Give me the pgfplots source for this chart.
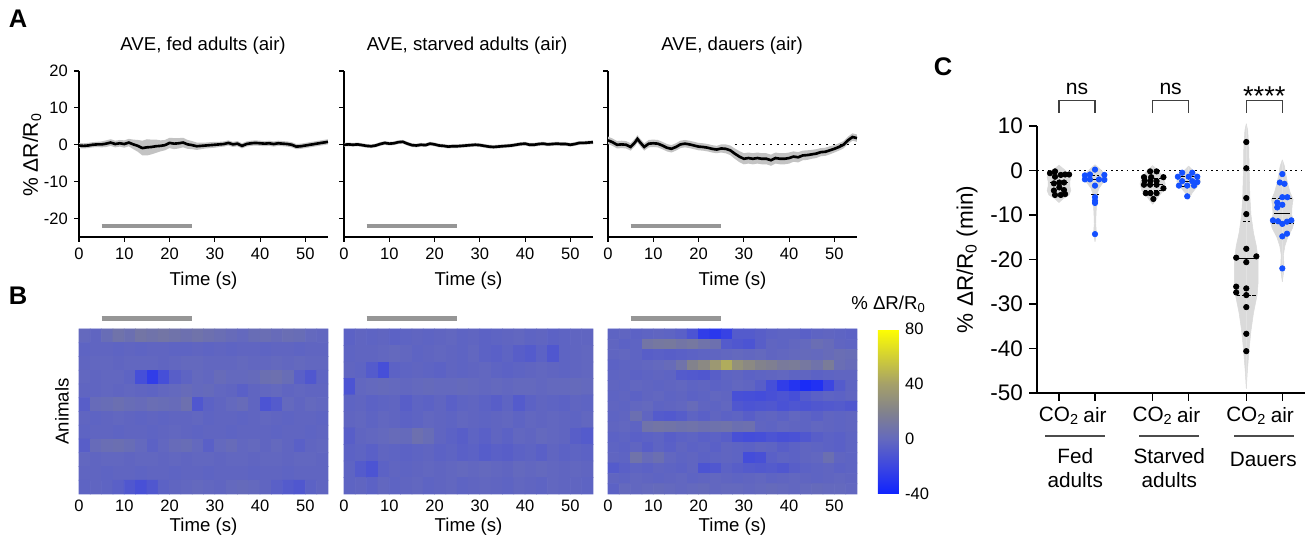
\documentclass[border=0pt]{standalone}
\usepackage{fontspec}
\setmainfont{Liberation Sans}
\usepackage{pgfplots}
\usepackage{pgfplotstable}
\pgfplotsset{compat=1.18}

\definecolor{band}{RGB}{195,195,195}
\definecolor{stim}{RGB}{150,150,150}
\definecolor{violin}{RGB}{218,218,218}
\definecolor{dotblue}{RGB}{20,80,255}

\newcommand\fT{\fontsize{10.6}{12.5}\selectfont}
\newcommand\fY{\fontsize{12}{14}\selectfont}
\newcommand\fK{\fontsize{9.4}{11}\selectfont}
\newcommand\fC{\fontsize{12.8}{14}\selectfont}
\newcommand\fL{\fontsize{11.8}{13.2}\selectfont}

\pgfplotsset{
  colormap={ratio}{rgb255(0cm)=(15,35,255) rgb255(1cm)=(60,70,225) rgb255(2cm)=(100,105,190)
    rgb255(3cm)=(130,130,140) rgb255(4cm)=(165,160,105) rgb255(6cm)=(255,255,0)},
  trace/.style={scale only axis, width=4.98cm, height=3.32cm, anchor=south west,
    xmin=0, xmax=55, ymin=-25, ymax=20, axis x line=bottom, axis y line=left,
    axis line style={-, line width=0.6pt}, tick style={black, line width=0.6pt},
    tick align=outside, major tick length=0.1cm,
    xtick={0,10,...,50}, ytick={-20,-10,...,20},
    tick label style={font=\fK}, label style={font=\fT},
    /pgf/number format/assume math mode=true,
    xlabel={Time (s)}, clip=false},
  heat/.style={scale only axis, width=4.98cm, height=3.3cm, anchor=south west,
    xmin=0, xmax=55, y dir=reverse, enlargelimits=false,
    colormap name=ratio, point meta min=-40, point meta max=80,
    axis x line*=bottom, axis y line*=left, axis line style={draw=none},
    xtick={0,10,...,50}, ytick=\empty, major tick length=0, tick style={draw=none},
    tick label style={font=\fK}, label style={font=\fT},
    /pgf/number format/assume math mode=true,
    xlabel={Time (s)}, xlabel style={at={(axis description cs:0.5,-0.2)}, anchor=center},
    clip=false},
  % cell index -> (time bin centre, animal row)
  heatcells/.style={matrix plot, mesh/cols=22, point meta=explicit,
    table/x=c, table/y=c, table/meta=c,
    table/x expr={2.5*(\coordindex-22*floor((\coordindex+0.5)/22))+1.25},
    table/y expr={floor((\coordindex+0.5)/22)}},
}

% mean trace and SEM
\pgfplotstableread{
t m e
0 -0.2 0.7
1 -0.3 0.7
2 -0.2 0.7
3 0.0 0.7
4 0.1 0.7
5 0.1 0.8
6 0.3 0.9
7 0.6 0.9
8 0.2 0.9
9 0.4 0.9
10 0.2 1.0
11 0.6 1.0
12 0.1 1.3
13 -0.3 1.6
14 -0.9 2.0
15 -0.7 2.2
16 -0.6 2.0
17 -0.4 1.8
18 -0.3 1.5
19 -0.1 1.4
20 0.5 1.4
21 0.3 1.5
22 0.4 1.4
23 0.6 1.3
24 0.1 1.2
25 -0.1 1.1
26 -0.4 1.0
27 -0.3 0.9
28 -0.2 0.8
29 -0.1 0.8
30 0.0 0.8
31 0.1 0.7
32 0.2 0.7
33 0.5 0.7
34 0.1 0.7
35 0.3 0.7
36 -0.3 0.7
37 0.2 0.7
38 0.4 0.7
39 0.5 0.7
40 0.4 0.7
41 0.3 0.7
42 0.4 0.7
43 0.2 0.7
44 0.4 0.7
45 0.3 0.7
46 0.2 0.7
47 0.0 0.7
48 -0.5 0.7
49 -0.4 0.7
50 -0.2 0.7
51 0.0 0.7
52 0.2 0.7
53 0.4 0.7
54 0.6 0.7
55 0.8 0.7
}\fedtr

\pgfplotstableread{
t m e
0 0.0 0.5
1 0.1 0.5
2 0.0 0.5
3 0.1 0.5
4 -0.1 0.5
5 -0.3 0.5
6 -0.4 0.5
7 -0.2 0.5
8 0.2 0.5
9 0.5 0.5
10 0.3 0.5
11 0.4 0.5
12 0.7 0.5
13 0.8 0.5
14 0.3 0.5
15 -0.1 0.5
16 -0.2 0.5
17 0.0 0.5
18 -0.1 0.5
19 0.3 0.5
20 0.1 0.5
21 -0.2 0.5
22 -0.3 0.5
23 -0.5 0.5
24 -0.4 0.5
25 -0.4 0.5
26 -0.3 0.5
27 -0.2 0.5
28 -0.1 0.5
29 0.0 0.5
30 -0.1 0.5
31 -0.3 0.5
32 -0.5 0.5
33 -0.6 0.5
34 -0.5 0.5
35 -0.4 0.5
36 -0.3 0.5
37 -0.2 0.5
38 0.0 0.5
39 0.2 0.5
40 0.3 0.5
41 0.0 0.5
42 0.0 0.5
43 0.2 0.5
44 0.3 0.5
45 0.1 0.5
46 0.2 0.5
47 0.3 0.5
48 0.2 0.5
49 0.2 0.5
50 0.0 0.5
51 0.2 0.5
52 0.5 0.5
53 0.5 0.5
54 0.6 0.5
55 0.7 0.5
}\startr

\pgfplotstableread{
t m e
0 1.2 1.0
1 0.7 1.0
2 0.0 1.0
3 0.1 1.0
4 0.0 1.0
5 -0.6 1.0
6 0.7 1.0
6.5 1.6 1.0
7 0.8 1.0
8 -0.6 1.0
9 0.3 1.0
10 0.4 1.0
11 0.3 1.0
12 -0.2 1.0
13 -0.8 1.0
14 -1.1 1.0
15 -0.6 1.0
16 0.1 1.0
17 0.3 1.0
18 0.1 1.0
19 -0.2 1.0
20 -0.5 1.0
21 -0.6 1.0
22 -0.8 1.0
23 -1.1 1.0
24 -1.3 1.0
25 -1.0 1.1
26 -1.1 1.2
27 -1.5 1.3
28 -2.4 1.4
29 -3.2 1.5
30 -3.8 1.5
31 -3.6 1.5
32 -3.8 1.5
33 -3.6 1.5
34 -3.8 1.5
35 -3.8 1.5
36 -4.2 1.5
37 -3.6 1.5
38 -3.8 1.5
39 -3.8 1.5
40 -3.6 1.5
41 -3.2 1.4
42 -3.4 1.4
43 -2.9 1.3
44 -2.8 1.3
45 -2.6 1.2
46 -2.4 1.2
47 -2.0 1.1
48 -1.9 1.1
49 -1.5 1.1
50 -1.1 1.0
51 -0.6 1.0
52 0.0 1.0
53 1.2 1.0
54 2.1 1.0
55 1.8 1.0
}\dautr

% heatmaps: one animal per line, 22 bins of 2.5 s
\pgfplotstableread[row sep=\\]{c\\
0\\ -2\\ 3\\ 8\\ 5\\ 10\\ 8\\ 10\\ 8\\ 6\\ 8\\ 6\\ 4\\ 2\\ 0\\ 3\\ 4\\ 2\\ 4\\ 3\\ 0\\ -1\\
-3\\ -2\\ -2\\ -3\\ -2\\ -3\\ -2\\ -2\\ -3\\ -3\\ -2\\ -3\\ -2\\ -3\\ -2\\ -2\\ -3\\ -2\\ -2\\ -3\\ -2\\ -2\\
-2\\ -1\\ -1\\ -2\\ -1\\ -1\\ -1\\ -2\\ -1\\ 0\\ 0\\ -1\\ -1\\ -1\\ 0\\ -1\\ -1\\ 0\\ -1\\ 0\\ -1\\ -1\\
-1\\ -2\\ -1\\ -1\\ -3\\ -15\\ -25\\ -15\\ -6\\ -3\\ 0\\ -1\\ 2\\ 0\\ 0\\ 1\\ 5\\ 6\\ 3\\ -5\\ -10\\ -3\\
-2\\ -2\\ -1\\ -2\\ -1\\ -2\\ -3\\ -1\\ 0\\ 2\\ 0\\ 1\\ -1\\ -2\\ -5\\ -2\\ -1\\ 0\\ -2\\ -1\\ -2\\ -2\\
-6\\ 2\\ 3\\ 5\\ 3\\ 2\\ 4\\ 3\\ 2\\ 6\\ -10\\ -4\\ -2\\ 0\\ 2\\ -2\\ -12\\ -8\\ 0\\ -2\\ 0\\ -1\\
-2\\ -3\\ -2\\ -1\\ -2\\ -3\\ -2\\ -3\\ -2\\ -2\\ -1\\ -3\\ -2\\ -2\\ -3\\ -2\\ -1\\ -2\\ -3\\ -2\\ -2\\ -3\\
-3\\ -2\\ -2\\ -3\\ -2\\ -2\\ -3\\ -2\\ -1\\ -2\\ -3\\ -2\\ -2\\ -3\\ -2\\ -2\\ -2\\ -3\\ -2\\ -2\\ -3\\ -2\\
-6\\ 2\\ 4\\ 5\\ 3\\ 0\\ -4\\ -1\\ 2\\ 3\\ 0\\ -5\\ 0\\ 2\\ -1\\ 0\\ -2\\ 0\\ -2\\ -5\\ -2\\ -1\\
-1\\ -2\\ -1\\ -1\\ -2\\ -1\\ -1\\ -2\\ -1\\ -2\\ -1\\ -1\\ -2\\ -1\\ -1\\ -2\\ -1\\ -1\\ -2\\ -1\\ -1\\ -2\\
-2\\ -2\\ -3\\ -2\\ -2\\ -3\\ -2\\ -2\\ -3\\ -2\\ -2\\ -3\\ -2\\ -2\\ -2\\ -3\\ -2\\ -2\\ -3\\ -2\\ -2\\ -2\\
-3\\ -2\\ -3\\ -5\\ -10\\ -14\\ -10\\ -4\\ -2\\ -1\\ 0\\ -1\\ -2\\ 0\\ 1\\ 0\\ -2\\ -5\\ -8\\ -10\\ -4\\ -2\\
}\fedheat

\pgfplotstableread[row sep=\\]{c\\
-4\\ -2\\ -3\\ -2\\ -4\\ -3\\ -2\\ -3\\ -2\\ -1\\ -3\\ -2\\ -4\\ -3\\ -2\\ -1\\ -3\\ -2\\ -4\\ -3\\ -2\\ -2\\
-3\\ -2\\ -2\\ -1\\ 0\\ -1\\ -3\\ -2\\ -1\\ -2\\ -3\\ -1\\ -4\\ -5\\ -3\\ -6\\ -8\\ -4\\ -10\\ -3\\ -2\\ -1\\
-2\\ -3\\ -8\\ -15\\ -4\\ -3\\ -2\\ -3\\ -4\\ -2\\ -3\\ -2\\ -1\\ -3\\ -4\\ -3\\ -2\\ -1\\ -2\\ -3\\ -2\\ -1\\
-12\\ -1\\ 0\\ 1\\ 0\\ -1\\ 0\\ 1\\ 0\\ 0\\ 1\\ 0\\ -1\\ 0\\ -1\\ 0\\ 0\\ -1\\ 0\\ 0\\ 1\\ 0\\
-3\\ -2\\ -4\\ -3\\ -2\\ -6\\ -3\\ -4\\ -2\\ -5\\ -3\\ -2\\ -4\\ -6\\ -3\\ -8\\ -4\\ -2\\ -3\\ -4\\ -2\\ -3\\
-2\\ -1\\ -3\\ -1\\ -2\\ -4\\ -3\\ -1\\ -2\\ -3\\ -1\\ -2\\ -3\\ -2\\ -1\\ -3\\ -1\\ -2\\ -1\\ -2\\ -3\\ -1\\
-6\\ -2\\ -1\\ 0\\ 2\\ 1\\ 6\\ 3\\ -2\\ -4\\ -6\\ -3\\ -5\\ -2\\ -4\\ -1\\ -2\\ 0\\ -1\\ -2\\ -6\\ -8\\
-4\\ -3\\ -5\\ -2\\ -3\\ -4\\ -3\\ -2\\ -4\\ -3\\ -5\\ -4\\ -7\\ -5\\ -6\\ -4\\ -3\\ -5\\ -2\\ -4\\ -3\\ -4\\
-3\\ -8\\ -12\\ -4\\ -2\\ -3\\ -2\\ -1\\ -2\\ -1\\ 0\\ -1\\ 0\\ -1\\ -2\\ 0\\ -1\\ 0\\ -1\\ -2\\ -1\\ -2\\
-3\\ -2\\ -4\\ -1\\ -3\\ -2\\ -1\\ -3\\ -2\\ -1\\ -3\\ -2\\ -1\\ -2\\ -3\\ -1\\ -2\\ -3\\ -1\\ -2\\ -2\\ -3\\
}\starheat

\pgfplotstableread[row sep=\\]{c\\
-3\\ -2\\ -4\\ -3\\ -2\\ -3\\ -5\\ -12\\ -25\\ -28\\ -22\\ -8\\ -8\\ -6\\ -4\\ -3\\ -3\\ -5\\ -3\\ -2\\ -3\\ -4\\
-2\\ -4\\ -3\\ 10\\ 12\\ 13\\ 10\\ 12\\ 8\\ 6\\ -8\\ -10\\ -12\\ -6\\ -2\\ -3\\ -1\\ 0\\ 4\\ 2\\ -2\\ -3\\
-2\\ -1\\ -3\\ -6\\ -5\\ -6\\ -5\\ -4\\ -3\\ -2\\ -1\\ 0\\ -1\\ 0\\ -2\\ -1\\ 0\\ 1\\ 0\\ 2\\ 4\\ 3\\
-4\\ -3\\ -2\\ -1\\ 0\\ 2\\ 8\\ 20\\ 25\\ 35\\ 45\\ 30\\ 25\\ 20\\ 18\\ 14\\ 15\\ 12\\ 8\\ 15\\ 4\\ 2\\
-3\\ -2\\ -4\\ -3\\ -2\\ -3\\ -8\\ -9\\ -10\\ -6\\ -3\\ -2\\ -4\\ -3\\ -2\\ -1\\ -3\\ -2\\ -4\\ -3\\ -2\\ -2\\
-2\\ -3\\ -1\\ -2\\ -3\\ -2\\ -1\\ -3\\ -2\\ -4\\ -3\\ -1\\ -2\\ -6\\ -15\\ -25\\ -30\\ -35\\ -32\\ -20\\ -8\\ -3\\
-3\\ -2\\ -4\\ -2\\ -1\\ -3\\ -2\\ -4\\ -3\\ -1\\ -2\\ -14\\ -15\\ -16\\ -14\\ -12\\ -15\\ -8\\ -5\\ -3\\ -4\\ -2\\
-2\\ -3\\ -1\\ 0\\ -3\\ -2\\ -1\\ 2\\ -2\\ -3\\ -1\\ -10\\ -12\\ -11\\ -10\\ -13\\ -11\\ -12\\ -10\\ -9\\ -8\\ -10\\
-3\\ -2\\ 5\\ -2\\ -8\\ -9\\ -7\\ -3\\ -5\\ -2\\ -4\\ -3\\ -6\\ -3\\ -2\\ -4\\ -1\\ -3\\ -5\\ -2\\ -3\\ -2\\
-2\\ -1\\ -3\\ 8\\ 10\\ 9\\ 7\\ 8\\ 6\\ 7\\ 8\\ 5\\ 6\\ -2\\ -3\\ -1\\ -2\\ -3\\ -1\\ -2\\ -3\\ -2\\
-4\\ -3\\ -5\\ -4\\ -3\\ -6\\ -4\\ -3\\ -5\\ -4\\ -6\\ -14\\ -16\\ -15\\ -12\\ -14\\ -13\\ -10\\ -6\\ -4\\ -5\\ -3\\
-3\\ -4\\ -2\\ -6\\ -3\\ -5\\ -2\\ -4\\ -3\\ -5\\ -2\\ -3\\ -4\\ -2\\ -3\\ -6\\ -4\\ -2\\ -3\\ -4\\ -5\\ -3\\
-2\\ -3\\ 8\\ 2\\ 5\\ -1\\ -3\\ -2\\ -4\\ -3\\ -2\\ -3\\ -16\\ -14\\ -5\\ -3\\ -4\\ -2\\ -1\\ 5\\ -2\\ -3\\
-8\\ -5\\ -3\\ -4\\ -2\\ -3\\ -4\\ -2\\ -12\\ -10\\ -4\\ -6\\ -8\\ -9\\ -8\\ -10\\ -6\\ -4\\ -3\\ -2\\ -4\\ -3\\
-2\\ -3\\ -1\\ -2\\ -3\\ -2\\ -1\\ -3\\ -2\\ -1\\ -2\\ -3\\ -2\\ -1\\ -3\\ -2\\ -1\\ -2\\ -3\\ -2\\ -1\\ -2\\
-4\\ 0\\ -1\\ 0\\ 1\\ 0\\ -1\\ 0\\ 1\\ -1\\ 0\\ 0\\ -1\\ 0\\ 1\\ 0\\ -1\\ 0\\ 1\\ 0\\ 0\\ -1\\
}\dauheat

% violin outlines: y, half width
\pgfplotstableread{
y w
1.2 0
0.2 0.15
-0.8 0.30
-1.5 0.33
-2.5 0.30
-3.5 0.30
-4.5 0.33
-5.5 0.28
-6.3 0.12
-7.2 0
}\vfc
\pgfplotstableread{
y w
1.3 0
0.3 0.14
-1.0 0.30
-1.8 0.34
-3.0 0.20
-4.0 0.11
-5.0 0.07
-7.0 0.05
-9.5 0.03
-12.0 0.02
-14.0 0.04
-16.0 0
}\vfa
\pgfplotstableread{
y w
1.1 0
0.0 0.15
-1.5 0.30
-3.0 0.35
-4.5 0.30
-6.0 0.15
-7.6 0
}\vsc
\pgfplotstableread{
y w
1.0 0
-0.5 0.18
-1.5 0.30
-2.5 0.33
-3.5 0.25
-5.0 0.10
-6.5 0
}\vsa
\pgfplotstableread{
y w
10.5 0
9.0 0.04
5.0 0.07
0.0 0.08
-6.0 0.10
-10.0 0.13
-14.0 0.20
-17.0 0.28
-20.0 0.33
-25.0 0.33
-28.0 0.30
-32.0 0.20
-36.0 0.13
-40.0 0.08
-45.0 0.03
-49.0 0
}\vdc
\pgfplotstableread{
y w
2.4 0
1.0 0.06
-1.0 0.10
-3.0 0.15
-5.0 0.22
-6.5 0.30
-8.0 0.27
-10.0 0.26
-11.5 0.33
-13.0 0.28
-15.0 0.15
-17.0 0.07
-19.0 0.03
-22.0 0.05
-25.0 0
}\vda

\begin{document}
\begin{tikzpicture}
\useasboundingbox (0,0) rectangle (26.2,10.78);

% ---------- A: traces ----------
\begin{axis}[trace, at={(1.58cm,6.04cm)}, ylabel={\% ΔR/R\textsubscript{0}},
  ylabel style={at={(axis description cs:-0.189,0.494)}, anchor=center, font=\fY}]
  \addplot[draw=none, stack plots=y] table[x=t, y expr=\thisrow{m}-\thisrow{e}]{\fedtr};
  \addplot[draw=none, fill=band, stack plots=y] table[x=t, y expr=2*\thisrow{e}]{\fedtr} \closedcycle;
  \addplot[black, line width=1.5pt] table[x=t, y=m]{\fedtr};
  \addplot[stim, line width=2.4pt] coordinates {(5,-22) (25,-22)};
\end{axis}

\begin{axis}[trace, at={(6.88cm,6.04cm)}, yticklabels={}]
  \addplot[draw=none, stack plots=y] table[x=t, y expr=\thisrow{m}-\thisrow{e}]{\startr};
  \addplot[draw=none, fill=band, stack plots=y] table[x=t, y expr=2*\thisrow{e}]{\startr} \closedcycle;
  \addplot[black, line width=1.5pt] table[x=t, y=m]{\startr};
  \addplot[stim, line width=2.4pt] coordinates {(5,-22) (25,-22)};
\end{axis}

\begin{axis}[trace, at={(12.16cm,6.04cm)}, yticklabels={}]
  \addplot[draw=none, stack plots=y] table[x=t, y expr=\thisrow{m}-\thisrow{e}]{\dautr};
  \addplot[draw=none, fill=band, stack plots=y] table[x=t, y expr=2*\thisrow{e}]{\dautr} \closedcycle;
  \addplot[black, line width=0.6pt, dash pattern=on 1pt off 3pt] coordinates {(28,0) (55,0)};
  \addplot[black, line width=1.5pt] table[x=t, y=m]{\dautr};
  \addplot[stim, line width=2.4pt] coordinates {(5,-22) (25,-22)};
\end{axis}

% ---------- B: heatmaps ----------
\begin{axis}[heat, at={(1.58cm,0.90cm)}, ymin=-0.5, ymax=11.5, ylabel={Animals},
  ylabel style={at={(axis description cs:-0.068,0.5)}, anchor=center}]
  \addplot[heatcells] table{\fedheat};
  \addplot[stim, line width=2.4pt] coordinates {(5,-1.26) (25,-1.26)};
\end{axis}

\begin{axis}[heat, at={(6.88cm,0.90cm)}, ymin=-0.5, ymax=9.5]
  \addplot[heatcells] table{\starheat};
  \addplot[stim, line width=2.4pt] coordinates {(5,-1.14) (25,-1.14)};
\end{axis}

\begin{axis}[heat, at={(12.16cm,0.90cm)}, ymin=-0.5, ymax=15.5,
  colorbar, colorbar style={at={(parent axis.south east)}, anchor=south west, xshift=0.12cm,
    scale only axis, width=0.42cm, height=3.3cm, ytick={-40,0,40,80},
    major tick length=0, tick style={draw=none}, axis line style={draw=none},
    yticklabel style={font=\fK}, /pgf/number format/assume math mode=true,
    title={\% ΔR/R\textsubscript{0}}, title style={font=\fT}}]
  \addplot[heatcells] table{\dauheat};
  \addplot[stim, line width=2.4pt] coordinates {(5,-1.52) (25,-1.52)};
\end{axis}

% ---------- C: violins ----------
\begin{axis}[scale only axis, width=5.36cm, height=5.34cm, anchor=south west, at={(20.74cm,2.92cm)},
  xmin=-0.61, xmax=6.83, ymin=-50, ymax=10,
  axis x line=bottom, axis y line=left, axis line style={-, line width=0.7pt},
  tick style={black, line width=0.7pt}, tick align=outside, major tick length=0.16cm,
  xtick={0,1,2.6,3.6,5.2,6.2},
  xticklabels={CO\textsubscript{2},air,CO\textsubscript{2},air,CO\textsubscript{2},air},
  ytick={-50,-40,...,10}, tick label style={font=\fC}, xticklabel style={font=\fL},
  ylabel={\% ΔR/R\textsubscript{0} (min)},
  ylabel style={font=\fC, at={(axis description cs:-0.261,0.5)}, anchor=center},
  /pgf/number format/assume math mode=true, clip=false]
  \addplot[black, line width=0.6pt, dash pattern=on 1pt off 2pt] coordinates {(-0.61,0) (6.83,0)};
  % violins
  \addplot[fill=violin, draw=violin, line width=0.3pt] table[x expr=0+\thisrow{w}, y=y]{\vfc};
  \addplot[fill=violin, draw=violin, line width=0.3pt] table[x expr=0-\thisrow{w}, y=y]{\vfc};
  \addplot[fill=violin, draw=violin, line width=0.3pt] table[x expr=1+\thisrow{w}, y=y]{\vfa};
  \addplot[fill=violin, draw=violin, line width=0.3pt] table[x expr=1-\thisrow{w}, y=y]{\vfa};
  \addplot[fill=violin, draw=violin, line width=0.3pt] table[x expr=2.6+\thisrow{w}, y=y]{\vsc};
  \addplot[fill=violin, draw=violin, line width=0.3pt] table[x expr=2.6-\thisrow{w}, y=y]{\vsc};
  \addplot[fill=violin, draw=violin, line width=0.3pt] table[x expr=3.6+\thisrow{w}, y=y]{\vsa};
  \addplot[fill=violin, draw=violin, line width=0.3pt] table[x expr=3.6-\thisrow{w}, y=y]{\vsa};
  \addplot[fill=violin, draw=violin, line width=0.3pt] table[x expr=5.2+\thisrow{w}, y=y]{\vdc};
  \addplot[fill=violin, draw=violin, line width=0.3pt] table[x expr=5.2-\thisrow{w}, y=y]{\vdc};
  \addplot[fill=violin, draw=violin, line width=0.3pt] table[x expr=6.2+\thisrow{w}, y=y]{\vda};
  \addplot[fill=violin, draw=violin, line width=0.3pt] table[x expr=6.2-\thisrow{w}, y=y]{\vda};
  % medians (solid) and quartiles (dashed)
  \addplot[black, line width=0.6pt] coordinates {(-0.25,-2.6) (0.25,-2.6)};
  \addplot[black, line width=0.6pt] coordinates {(0.78,-2.1) (1.22,-2.1)};
  \addplot[black, line width=0.6pt, dash pattern=on 2pt off 1pt] coordinates {(0.9,-1.1) (1.1,-1.1)};
  \addplot[black, line width=0.6pt, dash pattern=on 2pt off 1pt] coordinates {(0.9,-5.5) (1.1,-5.5)};
  \addplot[black, line width=0.6pt] coordinates {(2.3,-3.1) (2.9,-3.1)};
  \addplot[black, line width=0.6pt, dash pattern=on 2pt off 1pt] coordinates {(2.35,-1.9) (2.85,-1.9)};
  \addplot[black, line width=0.6pt, dash pattern=on 2pt off 1pt] coordinates {(2.35,-4.5) (2.85,-4.5)};
  \addplot[black, line width=0.6pt] coordinates {(3.35,-2.4) (3.85,-2.4)};
  \addplot[black, line width=0.6pt, dash pattern=on 2pt off 1pt] coordinates {(3.4,-1.4) (3.8,-1.4)};
  \addplot[black, line width=0.6pt, dash pattern=on 2pt off 1pt] coordinates {(3.4,-3.6) (3.8,-3.6)};
  \addplot[black, line width=0.6pt] coordinates {(4.9,-19.7) (5.5,-19.7)};
  \addplot[black, line width=0.6pt, dash pattern=on 2pt off 1pt] coordinates {(5.1,-11.5) (5.3,-11.5)};
  \addplot[black, line width=0.6pt, dash pattern=on 2pt off 1pt] coordinates {(4.93,-28.0) (5.47,-28.0)};
  \addplot[black, line width=0.6pt] coordinates {(5.98,-9.7) (6.42,-9.7)};
  \addplot[black, line width=0.6pt, dash pattern=on 2pt off 1pt] coordinates {(5.92,-6.2) (6.48,-6.2)};
  \addplot[black, line width=0.6pt, dash pattern=on 2pt off 1pt] coordinates {(5.9,-12.0) (6.5,-12.0)};
  % animals
  \addplot[only marks, mark=*, mark size=1.55pt, black] coordinates {
    (-0.25,-0.6) (-0.11,-0.2) (-0.11,-1.4) (0.05,-1.0) (0.17,-0.9) (0.28,-0.9)
    (-0.14,-2.9) (0.01,-2.7) (0.14,-2.7) (0.01,-3.8) (-0.14,-4.5) (0.14,-4.4)
    (-0.11,-5.5) (0.05,-5.5) (0.17,-5.3)};
  \addplot[only marks, mark=*, mark size=1.55pt, dotblue] coordinates {
    (1,0.2) (0.72,-1.1) (0.86,-0.9) (1.26,-1.0) (0.72,-2.0) (0.86,-2.0) (1.11,-2.0)
    (1.26,-2.1) (1,-3.4) (1,-6.0) (1,-6.8) (1,-7.3) (1,-14.3)};
  \addplot[only marks, mark=*, mark size=1.55pt, black] coordinates {
    (2.53,-0.2) (2.71,-0.2) (2.36,-1.5) (2.56,-1.5) (2.9,-1.5) (2.38,-2.3) (2.54,-2.3)
    (2.71,-2.4) (2.36,-3.2) (2.53,-3.2) (2.71,-3.2) (2.9,-4.0) (2.41,-5.1) (2.54,-5.1)
    (2.71,-5.1) (2.62,-6.4)};
  \addplot[only marks, mark=*, mark size=1.55pt, dotblue] coordinates {
    (3.42,-0.5) (3.7,-0.5) (3.3,-1.4) (3.6,-1.4) (3.84,-1.4) (3.42,-2.4) (3.7,-2.4)
    (3.84,-2.6) (3.33,-3.4) (3.56,-3.4) (3.75,-3.4) (3.56,-5.8)};
  \addplot[only marks, mark=*, mark size=1.55pt, black] coordinates {
    (5.2,6.4) (5.2,0.5) (5.2,-6.2) (5.2,-9.8) (5.2,-17.6) (4.92,-19.6) (5.48,-19.3)
    (5.2,-20.6) (4.92,-26.1) (4.92,-27.4) (5.2,-26.5) (5.2,-28.0) (5.2,-30.7)
    (5.2,-36.7) (5.2,-40.6)};
  \addplot[only marks, mark=*, mark size=1.55pt, dotblue] coordinates {
    (6.2,-0.8) (6.13,-2.7) (6.26,-3.0) (6.2,-6.0) (6.34,-6.0) (6.06,-7.2) (6.2,-7.7)
    (6.06,-8.3) (5.94,-11.2) (6.08,-11.4) (6.2,-12.0) (6.33,-11.5) (6.45,-11.2)
    (6.2,-14.8) (6.33,-14.2) (6.2,-22.0)};
  % comparisons
  \draw[line width=0.8pt, black!75] (axis cs:0,13) -- (axis cs:0,15.7) -- (axis cs:1,15.7) -- (axis cs:1,13);
  \draw[line width=0.8pt, black!75] (axis cs:2.6,13) -- (axis cs:2.6,15.7) -- (axis cs:3.6,15.7) -- (axis cs:3.6,13);
  \draw[line width=0.8pt, black!75] (axis cs:5.2,13) -- (axis cs:5.2,15.7) -- (axis cs:6.2,15.7) -- (axis cs:6.2,13);
  \node[font=\fontsize{12}{14}\selectfont] at (axis cs:0.5,18.4) {ns};
  \node[font=\fontsize{12}{14}\selectfont] at (axis cs:3.1,18.4) {ns};
  \node[font=\fontsize{15.5}{17}\selectfont] at (axis cs:5.7,16.6) {****};
\end{axis}

% ---------- labels in pixel units ----------
\begin{scope}[x=0.02cm, y=-0.02cm, yshift=10.78cm]
  \node[font=\fontsize{14.5}{16}\selectfont\bfseries] at (18,19) {A};
  \node[font=\fontsize{14.5}{16}\selectfont\bfseries] at (18,296) {B};
  \node[font=\fontsize{14.5}{16}\selectfont\bfseries] at (943,67) {C};
  \node[font=\fT] at (203,46) {AVE, fed adults (air)};
  \node[font=\fT] at (467,46) {AVE, starved adults (air)};
  \node[font=\fT] at (732,46) {AVE, dauers (air)};
  \draw[black!70, line width=0.8pt] (1045,436) -- (1105,436);
  \draw[black!70, line width=0.8pt] (1139,436) -- (1199,436);
  \draw[black!70, line width=0.8pt] (1234,436) -- (1294,436);
  \node[font=\fL, align=center] at (1075,468) {Fed\\adults};
  \node[font=\fL, align=center] at (1169,468) {Starved\\adults};
  \node[font=\fL, align=center, anchor=north] at (1263,446) {Dauers};
\end{scope}
\end{tikzpicture}
\end{document}
